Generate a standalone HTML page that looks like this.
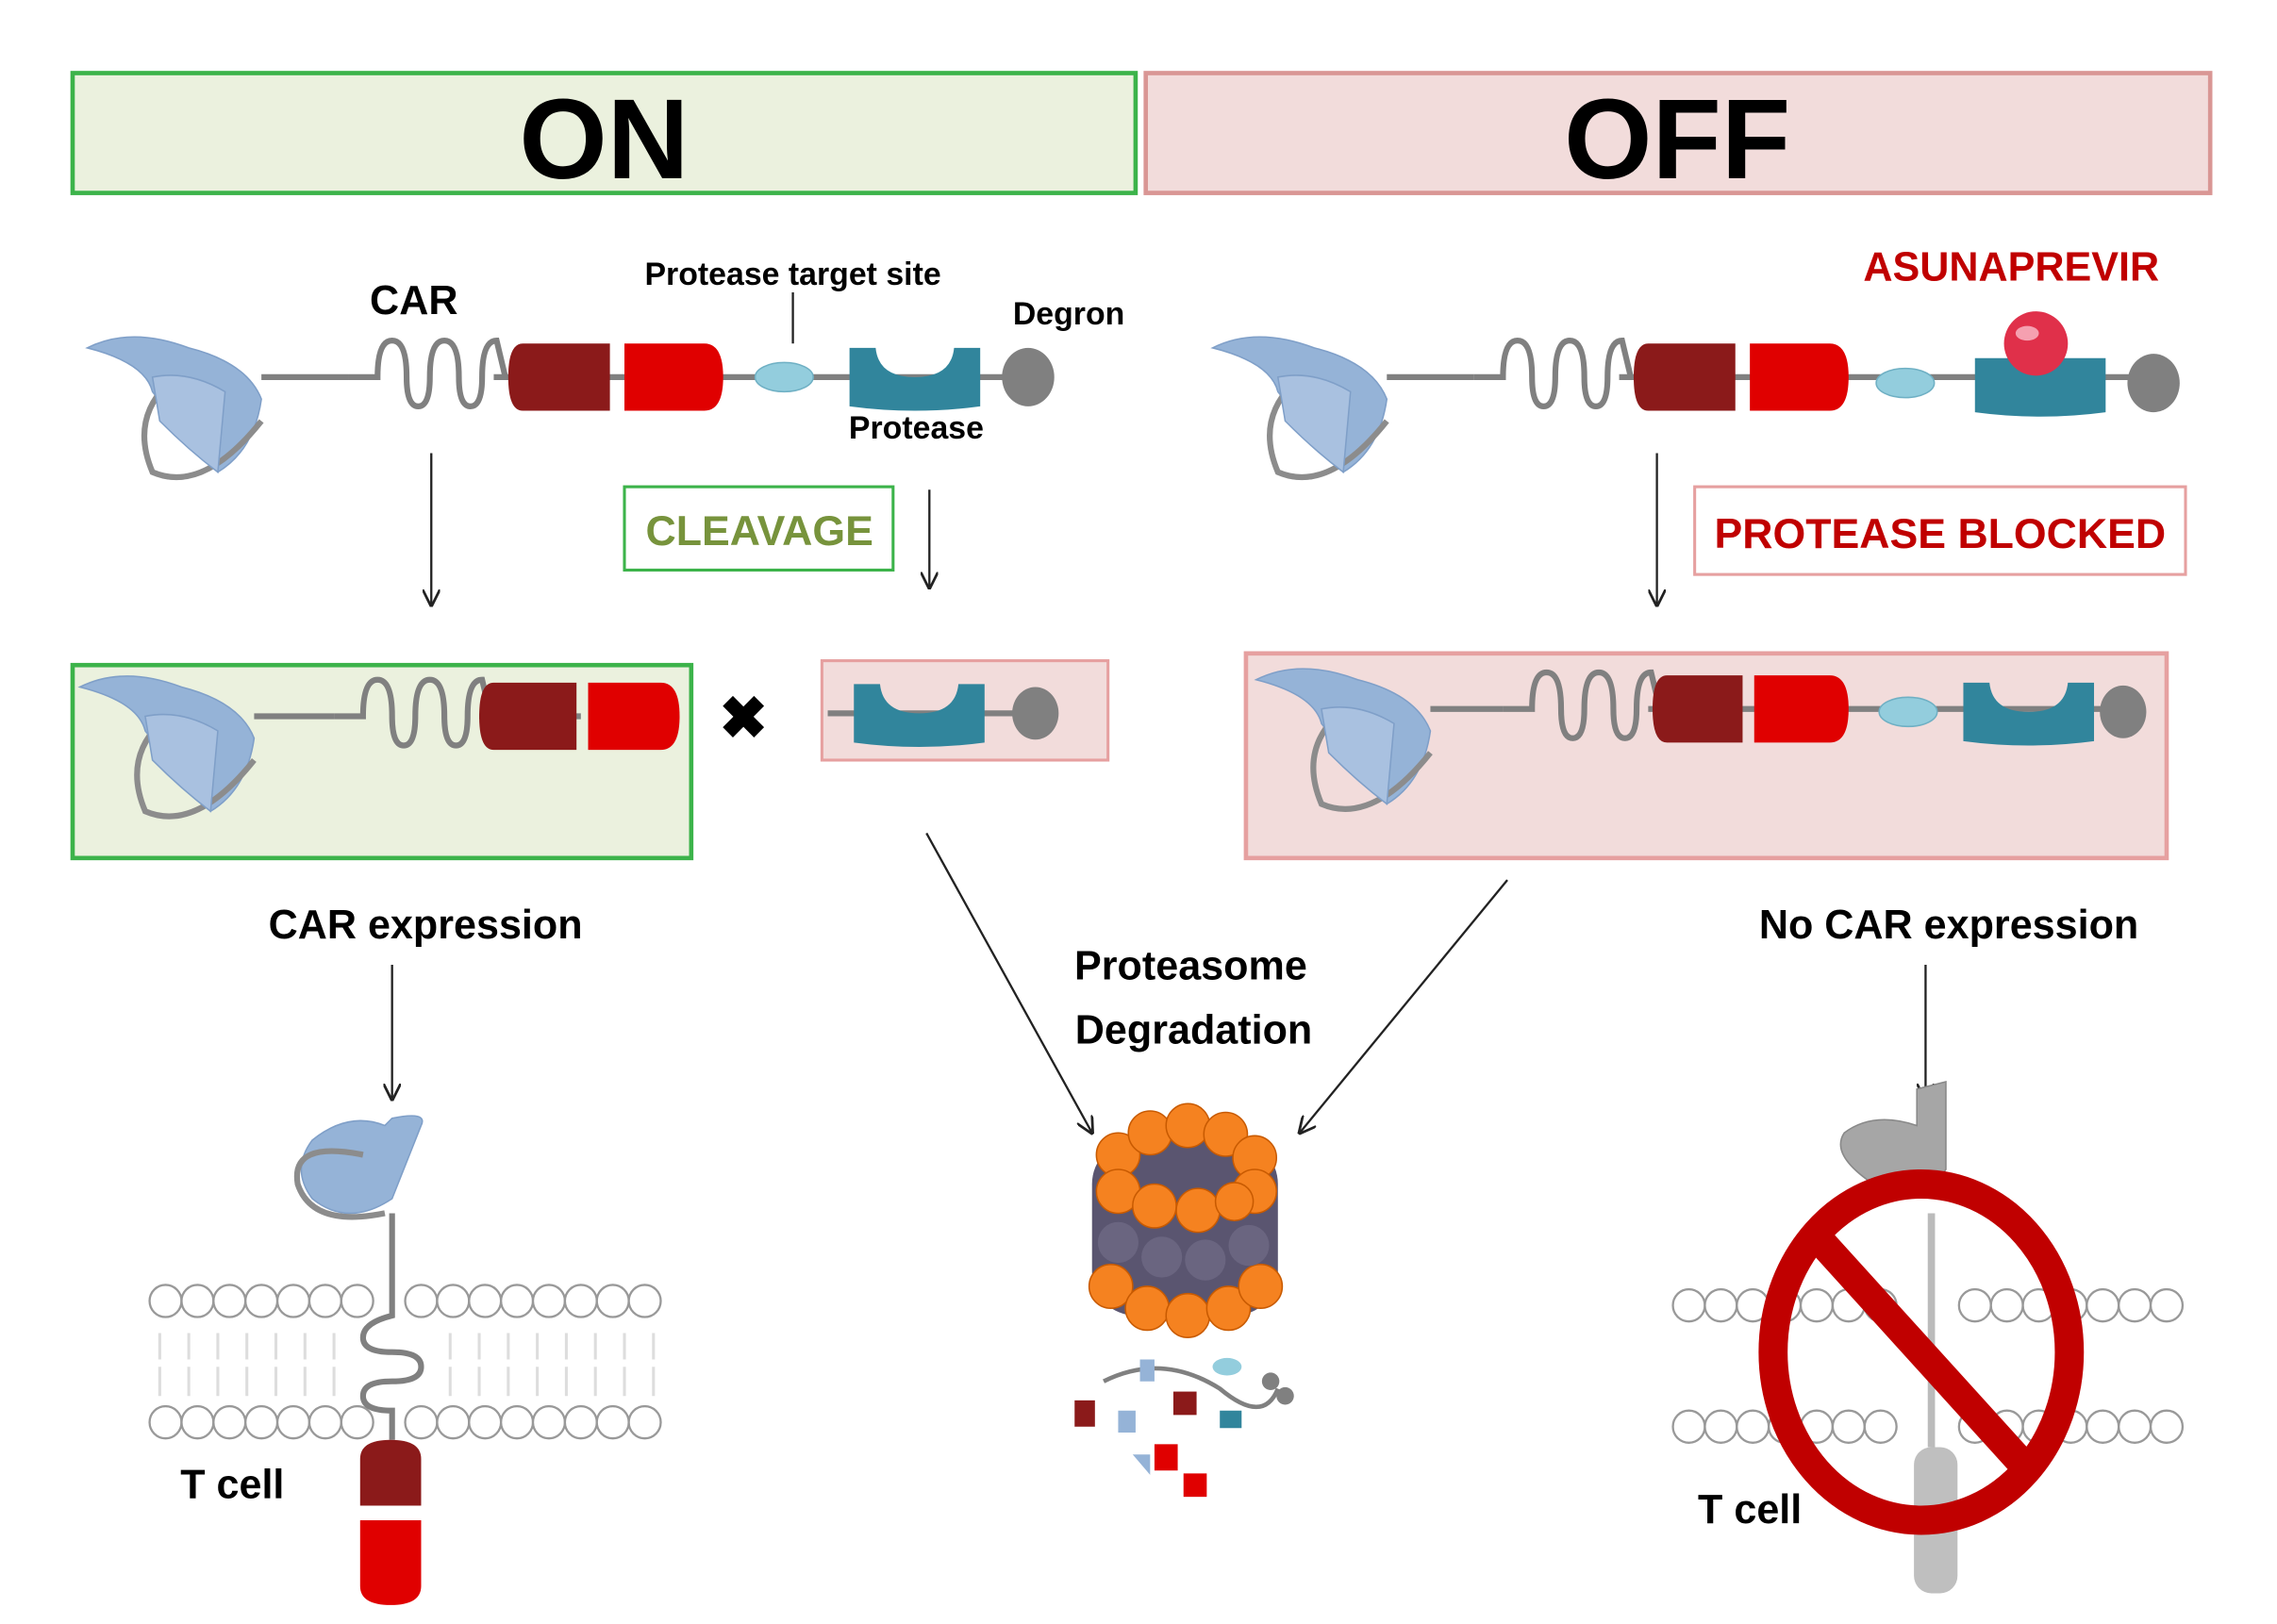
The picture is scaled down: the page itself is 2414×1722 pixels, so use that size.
<!DOCTYPE html>
<html><head><meta charset="utf-8"><style>
html,body{margin:0;padding:0;background:#fff}
svg{display:block}
text{font-family:"Liberation Sans",sans-serif;font-weight:bold}
</style></head><body>
<svg width="2414" height="1722" viewBox="0 0 1568 1111" preserveAspectRatio="none" xmlns="http://www.w3.org/2000/svg">
<defs>
<marker id="ar" viewBox="0 0 10 10" refX="9" refY="5" markerWidth="8" markerHeight="8" orient="auto"><path d="M0,0 L10,5 L0,10" fill="none" stroke="#222" stroke-width="1.5"/></marker>
<g id="ab">
<path d="M0,10 Q30,-5 70,10 Q110,20 120,45 Q115,80 90,95 L80,70 Q60,60 45,40 Q40,20 0,10Z" fill="#95b3d7" stroke="#7f9fc8"/>
<path d="M55,35 Q30,60 45,95 Q80,110 120,60" fill="none" stroke="#8c8c8c" stroke-width="4"/>
<path d="M45,30 Q70,25 95,40 L90,95 Q70,80 50,60Z" fill="#a9c1e0" stroke="#7f9fc8"/>
</g>
<g id="coil"><path d="M0,0 L20,0 Q20,-25 30,-25 Q40,-25 40,0 Q40,20 48,20 Q56,20 56,0 Q56,-25 66,-25 Q76,-25 76,0 Q76,20 84,20 Q92,20 92,0 Q92,-25 102,-25 L108,0" fill="none" stroke="#808080" stroke-width="4"/></g>
<g id="prot"><path d="M0,-20 L18,-20 Q20,0 45,0 Q70,0 72,-20 L90,-20 L90,20 Q45,26 0,20Z" fill="#31859c"/></g>
</defs>

<rect x="50" y="50" width="732" height="82" fill="#ebf1de" stroke="#3cb34a" stroke-width="3"/>
<text x="416" y="122" font-size="78" text-anchor="middle">ON</text>
<rect x="789" y="50" width="733" height="82" fill="#f2dcdb" stroke="#d99694" stroke-width="3"/>
<text x="1155" y="122" font-size="78" text-anchor="middle">OFF</text>

<use href="#ab" x="60" y="228"/>
<line x1="180" y1="258" x2="240" y2="258" stroke="#808080" stroke-width="4"/>
<use href="#coil" x="240" y="258"/>
<line x1="340" y1="258" x2="700" y2="258" stroke="#808080" stroke-width="4"/>
<path d="M360,235 H420 V281 H360 Q350,281 350,258 Q350,235 360,235Z" fill="#8b1a1a"/>
<path d="M430,235 H485 Q498,235 498,258 Q498,281 485,281 H430Z" fill="#e00000"/>
<ellipse cx="540" cy="258" rx="20" ry="10" fill="#93cddd" stroke="#6fb0c4"/>
<use href="#prot" x="585" y="258"/>
<ellipse cx="708" cy="258" rx="18" ry="20" fill="#808080"/>
<text x="285" y="215" font-size="28" text-anchor="middle">CAR</text>
<text x="546" y="195" font-size="22" text-anchor="middle">Protease target site</text>
<line x1="546" y1="200" x2="546" y2="235" stroke="#222" stroke-width="1.5"/>
<text x="736" y="222" font-size="22" text-anchor="middle">Degron</text>
<text x="631" y="300" font-size="22" text-anchor="middle">Protease</text>

<use href="#ab" x="835" y="228"/>
<line x1="955" y1="258" x2="1015" y2="258" stroke="#808080" stroke-width="4"/>
<use href="#coil" x="1015" y="258"/>
<line x1="1115" y1="258" x2="1490" y2="258" stroke="#808080" stroke-width="4"/>
<path d="M1135,235 H1195 V281 H1135 Q1125,281 1125,258 Q1125,235 1135,235Z" fill="#8b1a1a"/>
<path d="M1205,235 H1260 Q1273,235 1273,258 Q1273,281 1260,281 H1205Z" fill="#e00000"/>
<ellipse cx="1312" cy="262" rx="20" ry="10" fill="#93cddd" stroke="#6fb0c4"/>
<path d="M1360,245 H1450 V282 Q1405,288 1360,282Z" fill="#31859c"/>
<circle cx="1402" cy="235" r="22" fill="#e0304a"/>
<ellipse cx="1396" cy="228" rx="8" ry="5" fill="#f5a0b0"/>
<ellipse cx="1483" cy="262" rx="18" ry="20" fill="#808080"/>
<text x="1385" y="192" font-size="28" fill="#c00000" text-anchor="middle">ASUNAPREVIR</text>

<g stroke="#222" stroke-width="1.5" marker-end="url(#ar)" fill="none">
<line x1="297" y1="310" x2="297" y2="414"/>
<line x1="640" y1="335" x2="640" y2="402"/>
<line x1="1141" y1="310" x2="1141" y2="414"/>
<line x1="638" y1="570" x2="752" y2="775"/>
<line x1="1038" y1="602" x2="895" y2="775"/>
<line x1="270" y1="660" x2="270" y2="752"/>
<line x1="1326" y1="660" x2="1326" y2="752"/>
</g>

<rect x="430" y="333" width="185" height="57" fill="#fff" stroke="#3cb34a" stroke-width="2"/>
<text x="523" y="373" font-size="29" fill="#77933c" text-anchor="middle">CLEAVAGE</text>
<rect x="1167" y="333" width="338" height="60" fill="#fff" stroke="#e6a0a0" stroke-width="2"/>
<text x="1336" y="375" font-size="29" fill="#c00000" text-anchor="middle">PROTEASE BLOCKED</text>

<rect x="50" y="455" width="426" height="132" fill="#ebf1de" stroke="#3cb34a" stroke-width="3"/>
<use href="#ab" x="55" y="460"/>
<line x1="175" y1="490" x2="230" y2="490" stroke="#808080" stroke-width="4"/>
<use href="#coil" x="230" y="490"/>
<line x1="330" y1="490" x2="400" y2="490" stroke="#808080" stroke-width="4"/>
<path d="M340,467 H397 V513 H340 Q330,513 330,490 Q330,467 340,467Z" fill="#8b1a1a"/>
<path d="M405,467 H455 Q468,467 468,490 Q468,513 455,513 H405Z" fill="#e00000"/>
<text x="512" y="505" font-size="40" text-anchor="middle">✖</text>
<rect x="566" y="452" width="197" height="68" fill="#f2dcdb" stroke="#e6a0a0" stroke-width="2"/>
<line x1="570" y1="488" x2="715" y2="488" stroke="#808080" stroke-width="4"/>
<use href="#prot" x="588" y="488"/>
<ellipse cx="713" cy="488" rx="16" ry="18" fill="#808080"/>

<rect x="858" y="447" width="634" height="140" fill="#f2dcdb" stroke="#e6a0a0" stroke-width="3"/>
<use href="#ab" x="865" y="455"/>
<line x1="985" y1="485" x2="1035" y2="485" stroke="#808080" stroke-width="4"/>
<use href="#coil" x="1035" y="485"/>
<line x1="1135" y1="485" x2="1470" y2="485" stroke="#808080" stroke-width="4"/>
<path d="M1148,462 H1200 V508 H1148 Q1138,508 1138,485 Q1138,462 1148,462Z" fill="#8b1a1a"/>
<path d="M1208,462 H1260 Q1273,462 1273,485 Q1273,508 1260,508 H1208Z" fill="#e00000"/>
<ellipse cx="1314" cy="487" rx="20" ry="10" fill="#93cddd" stroke="#6fb0c4"/>
<use href="#prot" x="1352" y="487"/>
<ellipse cx="1462" cy="487" rx="16" ry="18" fill="#808080"/>

<text x="293" y="642" font-size="28" text-anchor="middle">CAR expression</text>
<text x="1342" y="642" font-size="28" text-anchor="middle">No CAR expression</text>
<text x="820" y="670" font-size="28" text-anchor="middle">Proteasome</text>
<text x="822" y="714" font-size="28" text-anchor="middle">Degradation</text>

<g>
<rect x="752" y="780" width="128" height="120" rx="30" fill="#5a5570"/>
<g fill="#f58220" stroke="#c85a00" stroke-width="1">
<circle cx="770" cy="790" r="15"/><circle cx="792" cy="775" r="15"/><circle cx="818" cy="770" r="15"/><circle cx="844" cy="776" r="15"/><circle cx="864" cy="792" r="15"/>
<circle cx="770" cy="815" r="15"/><circle cx="864" cy="815" r="15"/><circle cx="795" cy="825" r="15"/><circle cx="825" cy="828" r="15"/><circle cx="850" cy="822" r="13"/>
<circle cx="765" cy="880" r="15"/><circle cx="790" cy="895" r="15"/><circle cx="818" cy="900" r="15"/><circle cx="846" cy="895" r="15"/><circle cx="868" cy="880" r="15"/>
</g>
<g fill="#6a6580"><circle cx="770" cy="850" r="14"/><circle cx="800" cy="860" r="14"/><circle cx="830" cy="862" r="14"/><circle cx="860" cy="852" r="14"/></g>
</g>
<g>
<path d="M760,945 Q800,925 840,950 Q870,975 880,950" fill="none" stroke="#808080" stroke-width="3"/>
<rect x="740" y="958" width="14" height="18" fill="#8b1a1a"/><rect x="808" y="952" width="16" height="16" fill="#8b1a1a"/>
<rect x="795" y="988" width="16" height="18" fill="#e00000"/><rect x="815" y="1008" width="16" height="16" fill="#e00000"/>
<path d="M785,930 l10,0 l0,15 l-10,0z M770,965 l12,0 l0,15 l-12,0z M780,995 l12,0 l0,14z" fill="#95b3d7"/>
<ellipse cx="845" cy="935" rx="10" ry="6" fill="#93cddd"/><path d="M840,965 l15,0 l0,12 l-15,0z" fill="#31859c"/>
<circle cx="875" cy="945" r="6" fill="#808080"/><circle cx="885" cy="955" r="6" fill="#808080"/>
</g>

<g fill="#fff" stroke="#999" stroke-width="1.5">
<circle cx="114" cy="890" r="11"/><circle cx="136" cy="890" r="11"/><circle cx="158" cy="890" r="11"/><circle cx="180" cy="890" r="11"/><circle cx="202" cy="890" r="11"/><circle cx="224" cy="890" r="11"/><circle cx="246" cy="890" r="11"/><circle cx="290" cy="890" r="11"/><circle cx="312" cy="890" r="11"/><circle cx="334" cy="890" r="11"/><circle cx="356" cy="890" r="11"/><circle cx="378" cy="890" r="11"/><circle cx="400" cy="890" r="11"/><circle cx="422" cy="890" r="11"/><circle cx="444" cy="890" r="11"/>
<circle cx="114" cy="973" r="11"/><circle cx="136" cy="973" r="11"/><circle cx="158" cy="973" r="11"/><circle cx="180" cy="973" r="11"/><circle cx="202" cy="973" r="11"/><circle cx="224" cy="973" r="11"/><circle cx="246" cy="973" r="11"/><circle cx="290" cy="973" r="11"/><circle cx="312" cy="973" r="11"/><circle cx="334" cy="973" r="11"/><circle cx="356" cy="973" r="11"/><circle cx="378" cy="973" r="11"/><circle cx="400" cy="973" r="11"/><circle cx="422" cy="973" r="11"/><circle cx="444" cy="973" r="11"/>
</g>
<path d="M110,912 V930 M130,912 V930 M150,912 V930 M170,912 V930 M190,912 V930 M210,912 V930 M230,912 V930 M310,912 V930 M330,912 V930 M350,912 V930 M370,912 V930 M390,912 V930 M410,912 V930 M430,912 V930 M450,912 V930 M110,935 V955 M130,935 V955 M150,935 V955 M170,935 V955 M190,935 V955 M210,935 V955 M230,935 V955 M310,935 V955 M330,935 V955 M350,935 V955 M370,935 V955 M390,935 V955 M410,935 V955 M430,935 V955 M450,935 V955" stroke="#ddd" stroke-width="2"/>
<path d="M265,770 Q240,760 215,780 Q200,800 215,820 Q240,840 270,820 L290,770 Q295,760 270,765Z" fill="#95b3d7" stroke="#7f9fc8"/>
<path d="M250,790 Q200,780 205,810 Q215,840 265,830" fill="none" stroke="#8c8c8c" stroke-width="4"/>
<path d="M270,830 V900 Q250,905 250,915 Q250,925 270,925 Q290,925 290,935 Q290,945 270,945 Q250,945 250,955 Q250,965 270,965 V985" fill="none" stroke="#808080" stroke-width="4"/>
<path d="M248,998 Q248,985 269,985 Q290,985 290,998 V1030 H248Z" fill="#8b1a1a"/>
<path d="M248,1040 H290 V1085 Q290,1098 269,1098 Q248,1098 248,1085Z" fill="#e00000"/>
<text x="160" y="1025" font-size="28" text-anchor="middle">T cell</text>

<g fill="#fff" stroke="#999" stroke-width="1.5">
<circle cx="1163" cy="893" r="11"/><circle cx="1185" cy="893" r="11"/><circle cx="1207" cy="893" r="11"/><circle cx="1229" cy="893" r="11"/><circle cx="1251" cy="893" r="11"/><circle cx="1273" cy="893" r="11"/><circle cx="1295" cy="893" r="11"/><circle cx="1360" cy="893" r="11"/><circle cx="1382" cy="893" r="11"/><circle cx="1404" cy="893" r="11"/><circle cx="1426" cy="893" r="11"/><circle cx="1448" cy="893" r="11"/><circle cx="1470" cy="893" r="11"/><circle cx="1492" cy="893" r="11"/>
<circle cx="1163" cy="976" r="11"/><circle cx="1185" cy="976" r="11"/><circle cx="1207" cy="976" r="11"/><circle cx="1229" cy="976" r="11"/><circle cx="1251" cy="976" r="11"/><circle cx="1273" cy="976" r="11"/><circle cx="1295" cy="976" r="11"/><circle cx="1360" cy="976" r="11"/><circle cx="1382" cy="976" r="11"/><circle cx="1404" cy="976" r="11"/><circle cx="1426" cy="976" r="11"/><circle cx="1448" cy="976" r="11"/><circle cx="1470" cy="976" r="11"/><circle cx="1492" cy="976" r="11"/>
</g>
<path d="M1320,745 L1340,740 V800 Q1320,830 1290,810 Q1260,790 1270,775 Q1290,760 1320,770Z" fill="#a6a6a6" stroke="#888"/>
<path d="M1330,830 V990" stroke="#bbb" stroke-width="5"/>
<rect x="1318" y="990" width="30" height="100" rx="12" fill="#bfbfbf"/>
<ellipse cx="1323" cy="925" rx="102" ry="115" fill="none" stroke="#c00000" stroke-width="20"/>
<line x1="1250" y1="845" x2="1396" y2="1005" stroke="#c00000" stroke-width="20"/>
<text x="1205" y="1042" font-size="28" text-anchor="middle">T cell</text>
</svg>
</body></html>
